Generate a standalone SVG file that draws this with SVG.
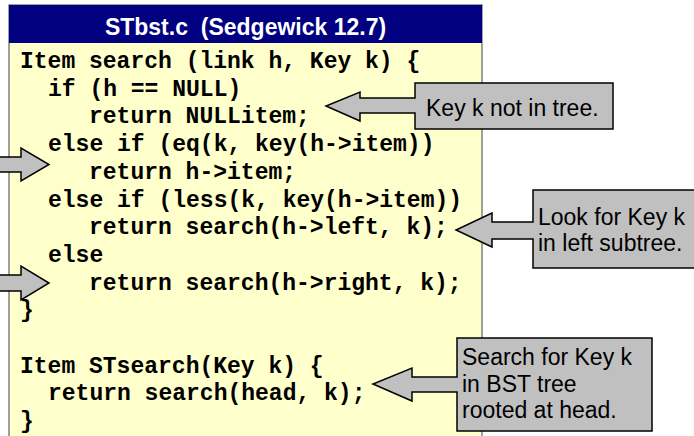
<svg xmlns="http://www.w3.org/2000/svg" width="694" height="436" viewBox="0 0 694 436">
<style>
.code{font-family:"Liberation Mono","Courier New",monospace;font-weight:bold;font-size:23px;fill:#000}
.title{font-family:"Liberation Sans",Arial,sans-serif;font-weight:bold;font-size:23px;fill:#fff}
.note{font-family:"Liberation Sans",Arial,sans-serif;font-size:23px;fill:#000}
.callout{fill:#C0C0C0;stroke:#000;stroke-width:1.5;stroke-linejoin:miter}
</style>
<rect width="694" height="436" fill="#fff"/>
<g id="code-panel">
<rect x="9" y="5" width="473" height="440" fill="#FFFFCC" stroke="#808080" stroke-width="1.5"/>
<rect x="9" y="5" width="473" height="38" fill="#000080"/>
<text class="title" x="245.5" y="35" text-anchor="middle" xml:space="preserve">STbst.c  (Sedgewick 12.7)</text>
<text class="code" x="20" y="68">Item search (link h, Key k) {</text>
<text class="code" x="48" y="95.7">if (h == NULL)</text>
<text class="code" x="89" y="123.4">return NULLitem;</text>
<text class="code" x="48" y="151.1">else if (eq(k, key(h-&gt;item))</text>
<text class="code" x="89" y="178.8">return h-&gt;item;</text>
<text class="code" x="48" y="206.5">else if (less(k, key(h-&gt;item))</text>
<text class="code" x="89" y="234.2">return search(h-&gt;left, k);</text>
<text class="code" x="48" y="261.9">else</text>
<text class="code" x="89" y="289.6">return search(h-&gt;right, k);</text>
<text class="code" x="20" y="317.3">}</text>
<text class="code" x="20" y="372.7">Item STsearch(Key k) {</text>
<text class="code" x="48" y="400.4">return search(head, k);</text>
<text class="code" x="20" y="428.1">}</text>
</g>
<g id="connectors">
<polygon class="callout" points="-5,157 21,157 21,148 49,164.5 21,181 21,172 -5,172"/>
<polygon class="callout" points="-5,275 21,275 21,266 49,283 21,300 21,291 -5,291"/>
</g>
<g id="callout-not-in-tree">
<polygon class="callout" points="415,83 613,83 613,129 415,129 415,113 360,113 360,121 326,106 360,92 360,98 415,98"/>
<text class="note" x="426" y="116">Key k not in tree.</text>
</g>
<g id="callout-left-subtree">
<polygon class="callout" points="533,190 700,190 700,268 533,268 533,239 492,239 492,247 456,230 492,213 492,222 533,222"/>
<text class="note" x="538" y="225">Look for Key k</text>
<text class="note" x="538" y="251">in left subtree.</text>
</g>
<g id="callout-bst-search">
<polygon class="callout" points="457,338 652,338 652,431 457,431 457,392 412,392 412,401 373,384 412,368 412,377 457,377"/>
<text class="note" x="462" y="365">Search for Key k</text>
<text class="note" x="462" y="391.5">in BST tree</text>
<text class="note" x="462" y="418">rooted at head.</text>
</g>
</svg>
